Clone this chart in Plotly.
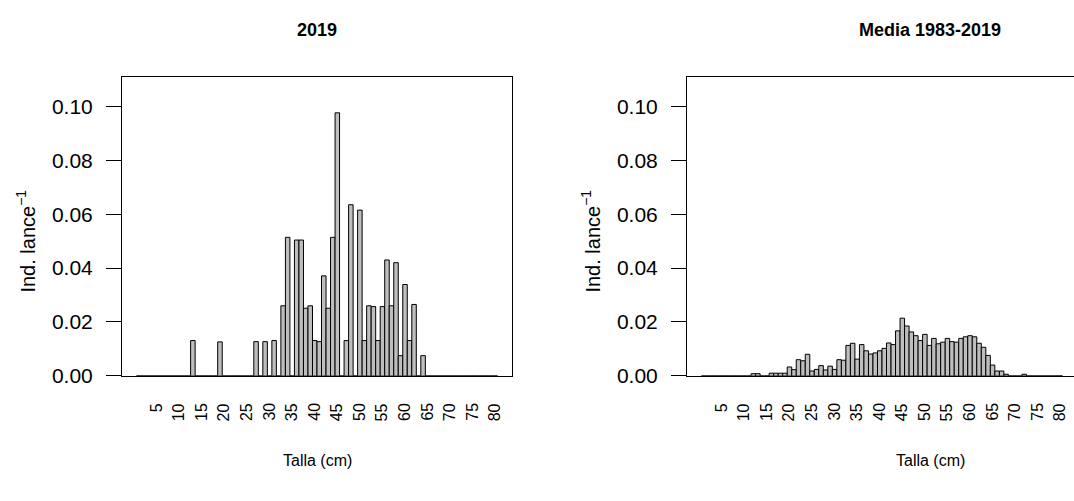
import plotly.graph_objects as go

# ---- data: 1-cm length classes (Talla, cm) and catch per haul (Ind. lance^-1)
classes = list(range(1, 81))

# 2019
v2019 = [
    0, 0, 0, 0, 0, 0, 0, 0, 0, 0,                 # 1-10
    0, 0, 0.0131, 0, 0, 0, 0, 0, 0.0126, 0,       # 11-20
    0, 0, 0, 0, 0, 0, 0.0127, 0, 0.0127, 0,       # 21-30
    0.0131, 0, 0.0260, 0.0514, 0, 0.0504, 0.0504, 0.0251, 0.0260, 0.0131,  # 31-40
    0.0127, 0.0371, 0.0251, 0.0514, 0.0976, 0, 0.0131, 0.0635, 0, 0.0615,  # 41-50
    0.0131, 0.0260, 0.0257, 0.0131, 0.0257, 0.0430, 0.0260, 0.0420, 0.0075, 0.0339,  # 51-60
    0.0131, 0.0265, 0, 0.0075, 0, 0, 0, 0, 0, 0,  # 61-70
    0, 0, 0, 0, 0, 0, 0, 0, 0, 0,                 # 71-80
]

# Media 1983-2019
vmedia = [
    0, 0, 0, 0, 0, 0, 0, 0, 0, 0,                                   # 1-10
    0, 0.0008, 0.0008, 0, 0, 0.0010, 0.0010, 0.0010, 0.0010, 0.0033,  # 11-20
    0.0023, 0.0060, 0.0056, 0.0080, 0.0018, 0.0024, 0.0038, 0.0022, 0.0036, 0.0024,  # 21-30
    0.0060, 0.0058, 0.0113, 0.0121, 0.0062, 0.0116, 0.0093, 0.0081, 0.0085, 0.0093,  # 31-40
    0.0102, 0.0122, 0.0116, 0.0167, 0.0214, 0.0185, 0.0163, 0.0149, 0.0131, 0.0154,  # 41-50
    0.0113, 0.0139, 0.0119, 0.0125, 0.0139, 0.0127, 0.0125, 0.0139, 0.0145, 0.0149,  # 51-60
    0.0145, 0.0121, 0.0106, 0.0076, 0.0040, 0.0018, 0.0018, 0.0006, 0, 0,            # 61-70
    0, 0.0006, 0, 0, 0, 0, 0, 0, 0, 0,                                              # 71-80
]

xtick_vals = list(range(5, 81, 5))
xtick_text = [str(v) for v in xtick_vals]
ytick_vals = [0, 0.02, 0.04, 0.06, 0.08, 0.10]
ytick_text = ["0.00", "0.02", "0.04", "0.06", "0.08", "0.10"]

titles = ["2019", "Media 1983-2019"]
xlabel = "Talla (cm)"
ylabel = "Ind. lance<sup>\u22121</sup>"

# ---- layout geometry (pixels)
W, H = 1074, 501
L1, R1 = 122, 512
SHIFT = 565
L2 = L1 + SHIFT
TOP, BOT = 78.7, 384.3
PX_PER_UNIT = (R1 - L1) / 86.4
XMIN = -2.7
YMAX = 0.1109

FONT = "Liberation Sans, Arial, sans-serif"
BAR_FILL = "#BEBEBE"

fig = go.Figure()
for vals, xa, ya in [(v2019, "x", "y"), (vmedia, "x2", "y2")]:
    fig.add_trace(go.Bar(
        x=classes, y=vals, width=1, xaxis=xa, yaxis=ya,
        marker=dict(color=BAR_FILL, line=dict(color="black", width=1)),
        showlegend=False, hoverinfo="skip",
    ))

ydom = [(H - BOT) / H, (H - TOP) / H]

def xaxis_cfg(l, r, xmax, mirror, anchor):
    return dict(
        domain=[l / W, r / W], range=[XMIN, xmax], anchor=anchor,
        showline=True, linecolor="black", linewidth=1, mirror=mirror,
        showgrid=False, zeroline=False, ticks="", showticklabels=False,
        fixedrange=True,
    )

def yaxis_cfg(anchor, mirror):
    return dict(
        domain=ydom, range=[0, YMAX], anchor=anchor,
        showline=True, linecolor="black", linewidth=1, mirror=mirror,
        showgrid=False, zeroline=False,
        ticks="outside", ticklen=15, tickcolor="black", tickwidth=1,
        tickmode="array", tickvals=ytick_vals, ticktext=ytick_text,
        tickfont=dict(family=FONT, size=21, color="black"),
        ticklabelstandoff=9, fixedrange=True,
    )

xmax1 = XMIN + (R1 - L1) / PX_PER_UNIT
xmax2 = XMIN + (W - L2) / PX_PER_UNIT

fig.update_layout(
    width=W, height=H, autosize=False,
    margin=dict(l=0, r=0, t=0, b=0, pad=0),
    paper_bgcolor="white", plot_bgcolor="white",
    bargap=0, barmode="overlay", hovermode=False,
    font=dict(family=FONT, color="black"),
    xaxis=xaxis_cfg(L1, R1, xmax1, True, "y"),
    yaxis=yaxis_cfg("x", True),
    xaxis2=xaxis_cfg(L2, W, xmax2, True, "y2"),
    yaxis2=yaxis_cfg("x2", False),
)

annotations = []
# rotated x tick labels (right-aligned against the axis, as in R las=2)
for xa in ["x", "x2"]:
    for v, t in zip(xtick_vals, xtick_text):
        annotations.append(dict(
            text=t, x=v, xref=xa, y=1 - 410 / H, yref="paper",
            xanchor="center", yanchor="top", textangle=-90,
            showarrow=False, font=dict(family=FONT, size=16, color="black"),
        ))

title_cx = [(L1 + R1) / 2, 930]
for i, off in enumerate([0, SHIFT]):
    cx = title_cx[i]
    annotations.append(dict(
        text="<b>" + titles[i] + "</b>", x=cx / W, y=1 - 31 / H,
        xref="paper", yref="paper", xanchor="center", yanchor="middle",
        showarrow=False, font=dict(family=FONT, size=18, color="black"),
    ))
    annotations.append(dict(
        text=xlabel, x=cx / W, y=1 - 471 / H,
        xref="paper", yref="paper", xanchor="center", yanchor="middle",
        showarrow=False, font=dict(family=FONT, size=16, color="black"),
    ))
    annotations.append(dict(
        text=ylabel, x=(26 + off) / W, y=1 - 247 / H,
        xref="paper", yref="paper", xanchor="center", yanchor="middle",
        textangle=-90, showarrow=False,
        font=dict(family=FONT, size=20, color="black"),
    ))
fig.update_layout(annotations=annotations)

# make the page exactly the size of the window (no body margin, no overflow)
POST = (
    "var gd=document.getElementById('{plot_id}');"
    "var st=document.createElement('style');"
    "st.innerHTML='html,body{margin:0;padding:0;overflow:hidden;}';"
    "document.head.appendChild(st);"
    "gd.style.position='fixed';gd.style.left='0px';gd.style.top='0px';"
    "var w=window.innerWidth, h=window.innerHeight;"
    "if(!(w>500)){w=1074;} if(!(h>300)){h=501;}"
    "gd.style.width=w+'px';gd.style.height=h+'px';"
    "return Plotly.relayout(gd,{width:w,height:h});"
)

fig.write_html(
    "out.html",
    config={"displayModeBar": False, "staticPlot": True},
    post_script=POST,
)
